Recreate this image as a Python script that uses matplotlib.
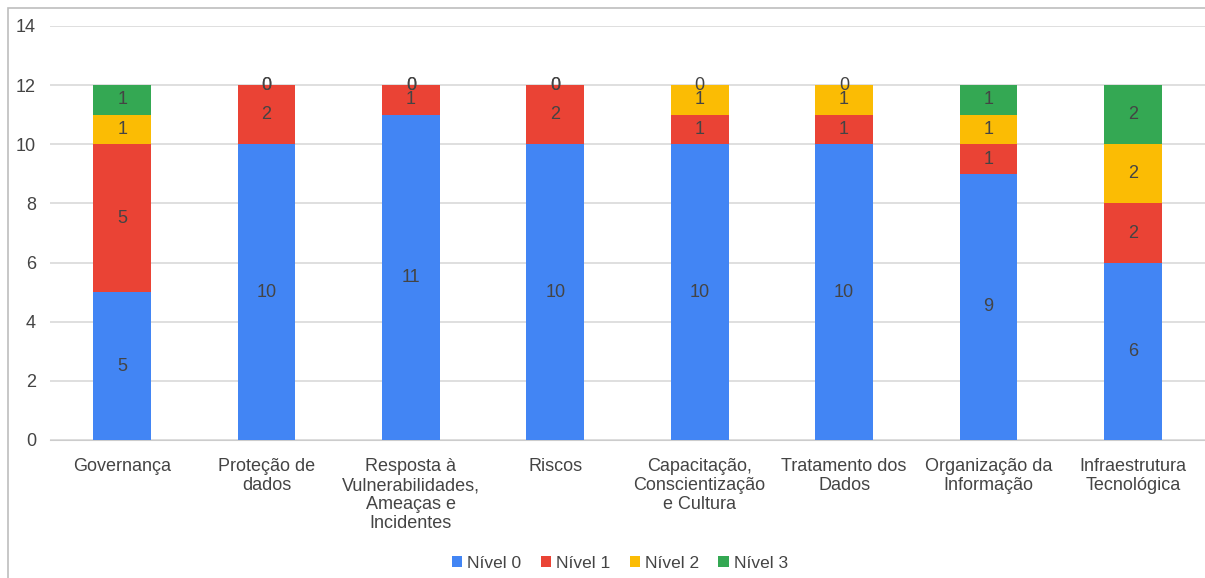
import numpy as np
import matplotlib.pyplot as plt
from matplotlib.patches import Rectangle

plt.rcParams['font.family'] = ['Liberation Sans', 'DejaVu Sans']

# dimensions and counts per maturity level
categorias = ["Governança", "Proteção de\ndados",
              "Resposta à\nVulnerabilidades,\nAmeaças e\nIncidentes", "Riscos",
              "Capacitação,\nConscientização\ne Cultura", "Tratamento dos\nDados",
              "Organização da\nInformação", "Infraestrutura\nTecnológica"]
nivel0 = [5, 10, 11, 10, 10, 10, 9, 6]
nivel1 = [5, 2, 1, 2, 1, 1, 1, 2]
nivel2 = [1, 0, 0, 0, 1, 1, 1, 2]
nivel3 = [1, 0, 0, 0, 0, 0, 1, 2]
niveis = ["Nível 0", "Nível 1", "Nível 2", "Nível 3"]
cores = ["#4285F4", "#EA4335", "#FBBC04", "#34A853"]

texto = "#444444"

fig = plt.figure(figsize=(12.05, 5.78), dpi=100)
ax = fig.add_axes([50/1205, 1 - 440/578, 1 - 50/1205, (440 - 26)/578])

# gray frame around the chart
fig.patches.append(Rectangle((8/1205, -0.1), 1.2, 1 - 8/578 + 0.1,
                             transform=fig.transFigure, fill=False,
                             edgecolor="#bdbdbd", linewidth=1.2))

x = np.arange(len(categorias))
base = np.zeros(len(categorias))
for serie, nome, cor in zip([nivel0, nivel1, nivel2, nivel3], niveis, cores):
    v = np.array(serie, dtype=float)
    bars = ax.bar(x, v, 0.4, bottom=base, color=cor, label=nome, zorder=3)
    ax.bar_label(bars, labels=[str(int(n)) for n in v], label_type="center",
                 color=texto, fontsize=13)
    base += v

ax.set_xlim(-0.5, len(categorias) - 0.5)
ax.set_ylim(0, 14)
ax.set_yticks(range(0, 15, 2))
ax.yaxis.grid(True, color="#d9d9d9", linewidth=1.2, zorder=0)
ax.set_axisbelow(True)
for s in ["top", "right", "left"]:
    ax.spines[s].set_visible(False)
ax.spines["bottom"].set_color("#cccccc")
ax.tick_params(axis="y", length=0, pad=10, labelsize=13, labelcolor=texto)
ax.tick_params(axis="x", length=0, pad=13, labelsize=13, labelcolor=texto)
ax.set_xticks(x)
ax.set_xticklabels(categorias, linespacing=1.15, va="top")

fig.legend(loc="center", bbox_to_anchor=(620/1205, 1 - 563/578), ncol=4,
           frameon=False, fontsize=12.5, labelcolor=texto,
           handlelength=0.6, handleheight=0.6, handletextpad=0.3,
           columnspacing=1.1)

fig.savefig("out.png", dpi=100)
